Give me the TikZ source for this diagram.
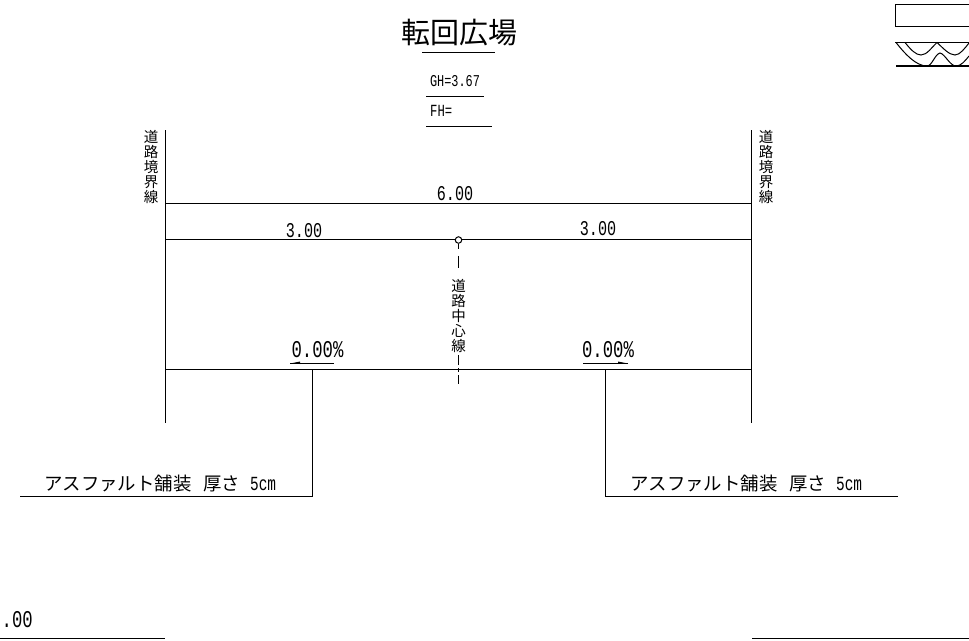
\documentclass[tikz,border=0pt]{standalone}
\usepackage{fontspec}
\setmainfont{Liberation Sans}
\newfontfamily\cjk{Noto Sans CJK JP}
\newfontfamily\latinmono{Liberation Mono}
\newcommand{\cadnum}[2]{\scalebox{.72}[1]{\fontsize{#1}{#1}\latinmono #2}}
\tikzset{
  x=1pt,y=-1pt,
  ln/.style={line width=1pt,black},
  dimtext/.style={inner sep=0pt,text=black},
  vlabel/.style={inner sep=0pt,align=center,font=\cjk\fontsize{14.5}{15}\selectfont},
  cjklabel/.style={inner sep=0pt,font=\cjk\fontsize{18.4}{18.4}\selectfont},
  centerup/.style={line width=1pt,black,dash pattern=on 5pt off 7pt on 13pt off 6pt},
  centerdown/.style={line width=1pt,black,dash pattern=on 10pt off 3pt on 4pt off 3pt on 9pt off 3pt},
}
\begin{document}
\begin{tikzpicture}
\useasboundingbox (0,0) rectangle (969,640);
\fill[white] (0,0) rectangle (969,640);

% heading
\node[inner sep=0pt,font=\cjk\fontsize{29}{29}\selectfont] (title) at (459,33) {転回広場};
\coordinate (tl) at (422,52.5); \coordinate (tr) at (495,52.5);
\draw[ln] (tl) -- (tr);
\node[dimtext] (gh) at (455,81) {\cadnum{16.5}{GH=3.67}};
\coordinate (gl) at (426,96.5); \coordinate (gr) at (484,96.5);
\draw[ln] (gl) -- (gr);
\node[dimtext,anchor=west] (fh) at (430,111) {\cadnum{17}{FH=}};
\coordinate (fl) at (426,126.5); \coordinate (fr) at (492,126.5);
\draw[ln] (fl) -- (fr);

% water level symbol
\coordinate (ra) at (895.5,4.5); \coordinate (rb) at (975,26);
\draw[ln] (ra) rectangle (rb);
\coordinate (sa) at (895,42.5); \coordinate (sb) at (969,42.5);
\coordinate (sc) at (896,66); \coordinate (sd) at (969,66);
\draw[ln] (sa) -- (sb);
\draw[line width=1.5pt] (sc) -- (sd);
\draw[ln] (905,42.5) .. controls (911,50) and (916,55) .. (921,55)
  .. controls (927,55) and (932,47) .. (937,42.5)
  .. controls (943,48) and (949,55) .. (955,55)
  .. controls (960,55) and (965,48) .. (969,43);
\draw[ln] (896,42.5) .. controls (905,54) and (916,66) .. (927,66)
  .. controls (932,66) and (935,54) .. (940,53)
  .. controls (945,54) and (950,66) .. (956,66)
  .. controls (961,66) and (965,61) .. (969,56);

% boundary lines
\coordinate (lt) at (165,130); \coordinate (lb) at (165,423);
\coordinate (rt) at (751,130); \coordinate (rb2) at (751,423);
\draw[ln] (lt) -- (lb);
\draw[ln] (rt) -- (rb2);
\node[vlabel] (bl) at (151,167) {道\\路\\境\\界\\線};
\node[vlabel] (br) at (766,167) {道\\路\\境\\界\\線};

% dimension lines
\coordinate (d1l) at (165,203); \coordinate (d1r) at (751,203);
\coordinate (d2l) at (165,239.5); \coordinate (d2r) at (751,239.5);
\coordinate (d3l) at (165,369.5); \coordinate (d3r) at (751,369.5);
\draw[ln] (d1l) -- (d1r);
\draw[ln] (d2l) -- (d2r);
\draw[ln] (d3l) -- (d3r);
\node[dimtext] (d6) at (455,194) {\cadnum{21}{6.00}};
\node[dimtext] (d3a) at (304,231) {\cadnum{21}{3.00}};
\node[dimtext] (d3b) at (598,229) {\cadnum{21}{3.00}};

% centre line
\node[draw,circle,line width=1pt,fill=white,minimum size=6.5pt,inner sep=0pt] (cc) at (458.5,240) {};
\node[vlabel] (cl) at (458.5,316) {道\\路\\中\\心\\線};
\coordinate (ce1) at (458.5,268); \coordinate (cs2) at (458.5,355); \coordinate (ce) at (458.5,384);
\draw[centerup] (cc.south) -- (ce1);
\draw[centerdown] (cs2) -- (ce);

% slopes
\node[dimtext] (sl) at (317.5,350) {\cadnum{24}{0.00\%}};
\node[dimtext] (sr) at (608,350) {\cadnum{24}{0.00\%}};
\coordinate (al) at (290,363.5); \coordinate (ae) at (334,363.5);
\coordinate (bl2) at (583,363.5); \coordinate (be) at (628,363.5);
\draw[ln] (al) -- (ae);
\draw[ln] (bl2) -- (be);
\fill (al) -- (300,361.5) -- (300,364) -- cycle;
\fill (be) -- (618,361.5) -- (618,364) -- cycle;

% leaders
\coordinate (p1) at (312,369.5); \coordinate (p2) at (312,496); \coordinate (p3) at (20,496);
\coordinate (q1) at (605,369.5); \coordinate (q2) at (605,496); \coordinate (q3) at (898,496);
\draw[ln] (p1) -- (p2) -- (p3);
\draw[ln] (q1) -- (q2) -- (q3);
\node[cjklabel,anchor=west] (ml) at (44,484) {アスファルト舗装\hspace{12pt}厚さ\hspace{10pt}\cadnum{20}{5cm}};
\node[cjklabel,anchor=west] (mr) at (630,484) {アスファルト舗装\hspace{12pt}厚さ\hspace{10pt}\cadnum{20}{5cm}};

% bottom row
\node[dimtext,anchor=east] (bt) at (33,620) {\cadnum{24}{.00}};
\coordinate (bla) at (0,638); \coordinate (blb) at (165,638);
\coordinate (bra) at (752,638); \coordinate (brb) at (969,638);
\draw[ln] (bla) -- (blb);
\draw[ln] (bra) -- (brb);
\end{tikzpicture}
\end{document}
